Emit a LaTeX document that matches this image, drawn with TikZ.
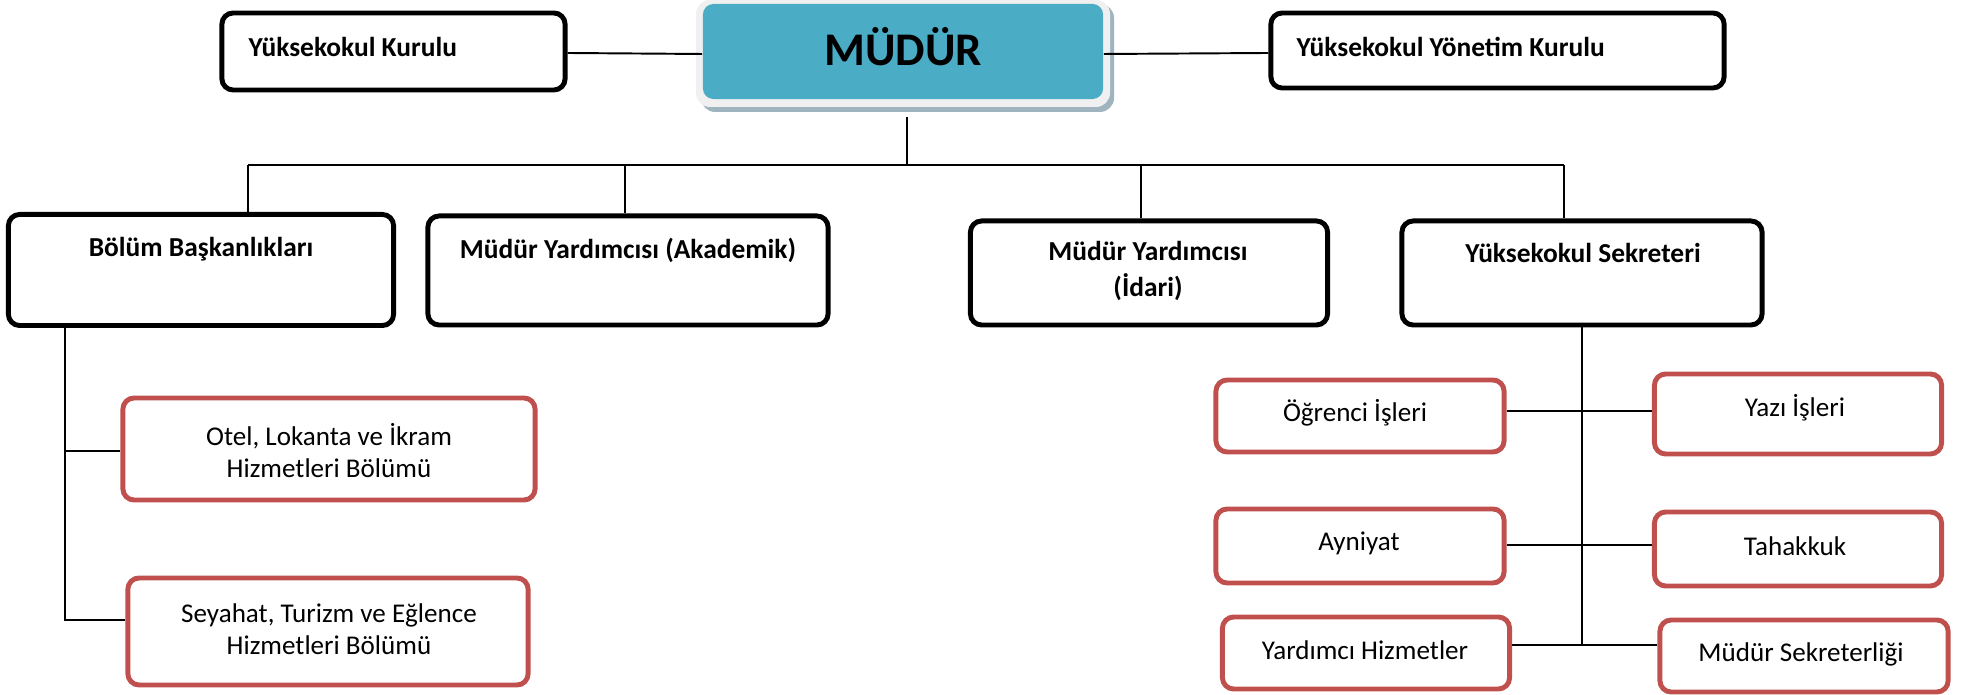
\documentclass[tikz,border=0pt]{standalone}
\usepackage{fontspec}
\setmainfont{Carlito}
\definecolor{redb}{HTML}{C0504D}
\definecolor{teal}{HTML}{4BACC6}
\definecolor{frame}{HTML}{F0F0F0}
\definecolor{shadowc}{HTML}{9FB4BE}
\begin{document}
\begin{tikzpicture}[x=0.01cm,y=-0.01cm,
  blackbox/.style={draw=black,line width=1.4pt,rounded corners=3.2pt,fill=white,inner sep=0pt},
  redbox/.style={draw=redb,line width=1.4pt,rounded corners=3.2pt,fill=white,inner sep=0pt},
  btext/.style={font=\fontsize{7.8}{10.2}\selectfont\bfseries,align=center,inner sep=0pt},
  rtext/.style={font=\fontsize{7.7}{9.1}\selectfont,align=center,inner sep=0pt},
  conn/.style={draw=black,line width=0.55pt}]
\useasboundingbox (0,0) rectangle (1973,695);
% MUDUR
\fill[shadowc,rounded corners=4pt] (701,4) rectangle (1114,112);
\fill[frame,rounded corners=4pt] (696,0) rectangle (1110,107);
\node[fill=teal,rounded corners=3pt,minimum width=4.00cm,minimum height=0.95cm,inner sep=0pt] (mudur) at (903,51.5) {};
\node[font=\fontsize{13.3}{15}\selectfont\bfseries,inner sep=0pt] (mudurt) at (903,47) {MÜDÜR};
% top boxes
\node[blackbox,minimum width=3.43cm,minimum height=0.77cm] (kk) at (393.5,51.5) {};
\node[btext,anchor=west] (kkt) at (248,47) {Yüksekokul Kurulu};
\node[blackbox,minimum width=4.53cm,minimum height=0.75cm] (ykk) at (1497.5,50.5) {};
\node[btext,anchor=west] (ykkt) at (1296,47) {Yüksekokul Yönetim Kurulu};
% second row
\node[blackbox,minimum width=3.85cm,minimum height=1.11cm] (bolum) at (201,270) {};
\node[btext] (bolumt) at (201,249) {Bölüm Başkanlıkları};
\node[blackbox,minimum width=4.00cm,minimum height=1.09cm] (akad) at (628,270.5) {};
\node[btext] (akadt) at (628,250) {Müdür Yardımcısı (Akademik)};
\node[blackbox,minimum width=3.57cm,minimum height=1.04cm] (idari) at (1149,273) {};
\node[btext] (idarit) at (1148,271) {Müdür Yardımcısı\\(İdari)};
\node[blackbox,minimum width=3.60cm,minimum height=1.04cm] (sek) at (1582,273) {};
\node[btext] (sekt) at (1583,253) {Yüksekokul Sekreteri};
% left red boxes
\node[redbox,minimum width=4.12cm,minimum height=1.02cm] (otel) at (329,449) {};
\node[rtext] (otelt) at (329,451) {Otel, Lokanta ve İkram\\Hizmetleri Bölümü};
\node[redbox,minimum width=4.00cm,minimum height=1.07cm] (sey) at (328,631.5) {};
\node[rtext] (seyt) at (329,629) {Seyahat, Turizm ve Eğlence\\Hizmetleri Bölümü};
% right red boxes
\node[redbox,minimum width=2.88cm,minimum height=0.72cm] (ogr) at (1360,416) {};
\node[rtext] (ogrt) at (1355,413) {Öğrenci İşleri};
\node[redbox,minimum width=2.87cm,minimum height=0.80cm] (yazi) at (1798,414) {};
\node[rtext] (yazit) at (1795,408) {Yazı İşleri};
\node[redbox,minimum width=2.88cm,minimum height=0.74cm] (ayn) at (1360,546) {};
\node[rtext] (aynt) at (1359,543) {Ayniyat};
\node[redbox,minimum width=2.87cm,minimum height=0.74cm] (tah) at (1798,549) {};
\node[rtext] (taht) at (1795,546) {Tahakkuk};
\node[redbox,minimum width=2.87cm,minimum height=0.72cm] (yard) at (1366,653) {};
\node[rtext] (yardt) at (1365,650) {Yardımcı Hizmetler};
\node[redbox,minimum width=2.88cm,minimum height=0.72cm] (msek) at (1804,656) {};
\node[rtext] (msekt) at (1801,654) {Müdür Sekreterliği};
% connectors top
\draw[conn] (kk.east |- 0,53) -- (mudur.west |- 0,54);
\draw[conn] (mudur.east |- 0,54) -- (ykk.west |- 0,53);
\coordinate (mb) at (907,117);
\coordinate (busc) at (907,165);
\coordinate (b1) at (248,165);
\coordinate (b2) at (625,165);
\coordinate (b3) at (1141,165);
\coordinate (b4) at (1564,165);
\draw[conn] (mb) -- (busc);
\draw[conn] (b1) -- (b4);
\draw[conn] (b1) -- (b1 |- bolum.north);
\draw[conn] (b2) -- (b2 |- akad.north);
\draw[conn] (b3) -- (b3 |- idari.north);
\draw[conn] (b4) -- (b4 |- sek.north);
% left tree
\coordinate (lv) at (65,325);
\coordinate (l1) at (65,451);
\coordinate (l2) at (65,620);
\draw[conn] (lv) -- (l2) -- (l2 -| sey.west);
\draw[conn] (l1) -- (l1 -| otel.west);
% right tree
\coordinate (rv) at (1582,325);
\coordinate (r1) at (1582,411);
\coordinate (r2) at (1582,545);
\coordinate (r3) at (1582,645);
\draw[conn] (rv) -- (r3);
\draw[conn] (r1 -| ogr.east) -- (r1 -| yazi.west);
\draw[conn] (r2 -| ayn.east) -- (r2 -| tah.west);
\draw[conn] (r3 -| yard.east) -- (r3 -| msek.west);
\end{tikzpicture}
\end{document}
